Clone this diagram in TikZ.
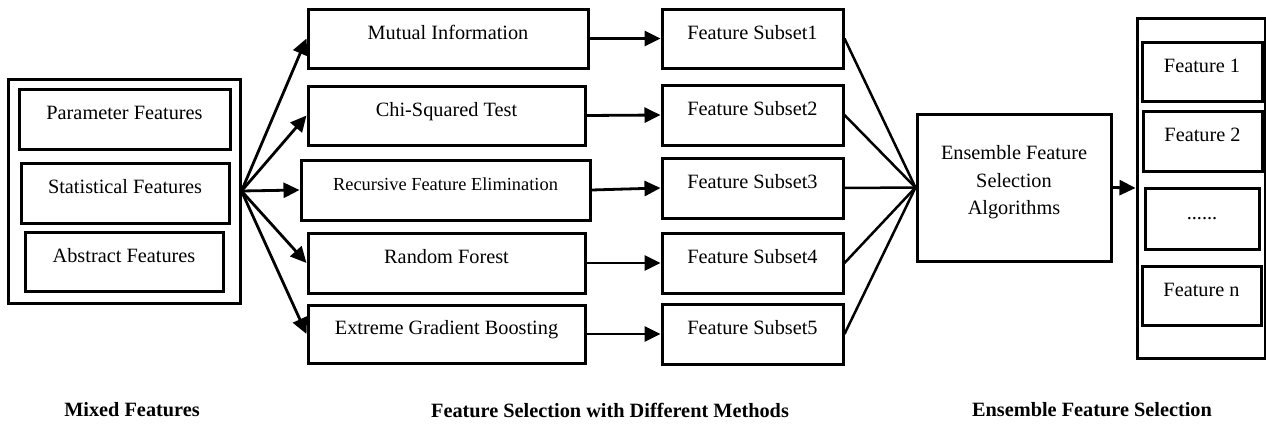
\documentclass[tikz,border=0pt]{standalone}
\usepackage{fontspec}
\setmainfont{Liberation Serif}
\usetikzlibrary{arrows.meta}

\begin{document}
\begin{tikzpicture}[x=1pt,y=-1pt,
    box/.style={draw,line width=3pt,inner sep=0pt,text height=13pt,text depth=12pt,font=\fontsize{20.3}{27.5}\selectfont},
    frame/.style={draw,line width=3pt,inner sep=0pt},
    arr/.style={line width=2.8pt,-{Triangle[length=16pt,width=15pt]}},
    lbl/.style={font=\fontsize{20.3}{24}\selectfont\bfseries}]
    \useasboundingbox (0,0) rectangle (1266,423);
    % mixed features
    \node[frame,minimum width=232pt,minimum height=224pt] (mixed) at (124,191) {};
    \node[box,minimum width=211pt,minimum height=60pt] (param) at (124.5,119)  {Parameter Features};
    \node[box,minimum width=208pt,minimum height=60pt] (stat)  at (125,193)    {Statistical Features};
    \node[box,minimum width=198pt,minimum height=59pt] (abs)   at (124,261.5)  {Abstract Features};
    % selection methods
    \node[box,minimum width=280pt,minimum height=59pt] (mi)  at (448,38.5)   {Mutual Information};
    \node[box,minimum width=277pt,minimum height=59pt] (chi) at (446.5,115.5) {Chi-Squared Test};
    \node[box,minimum width=289pt,minimum height=60pt,font=\fontsize{18.4}{22}\selectfont] (rfe) at (445.5,190) {Recursive Feature Elimination};
    \node[box,minimum width=277pt,minimum height=60pt] (rf)  at (446.5,263)   {Random Forest};
    \node[box,minimum width=277pt,minimum height=58pt] (xgb) at (446.5,334)   {Extreme Gradient Boosting};
    % subsets
    \node[box,minimum width=181pt,minimum height=59pt] (s1) at (752.5,38.5) {Feature Subset1};
    \node[box,minimum width=181pt,minimum height=60pt] (s2) at (752.5,115)  {Feature Subset2};
    \node[box,minimum width=181pt,minimum height=60pt] (s3) at (752.5,188)  {Feature Subset3};
    \node[box,minimum width=181pt,minimum height=60pt] (s4) at (752.5,263)  {Feature Subset4};
    \node[box,minimum width=181pt,minimum height=60pt] (s5) at (752.5,334)  {Feature Subset5};
    % ensemble
    \node[frame,minimum width=194pt,minimum height=147pt] (ens) at (1014,187.5) {};
    \node[align=center,inner sep=0pt,font=\fontsize{20.3}{27.5}\selectfont] (enstxt) at ([yshift=5pt]ens.center)
        {Ensemble Feature\\Selection\\Algorithms};
    % selected features
    \node[frame,minimum width=128pt,minimum height=340pt] (out) at (1201,188) {};
    \node[box,minimum width=120pt,minimum height=59pt] (f1)    at (1202,71.5)    {Feature 1};
    \node[box,minimum width=119pt,minimum height=60pt] (f2)    at (1202.5,141)   {Feature 2};
    \node[box,minimum width=114pt,minimum height=61pt] (fdots) at (1202,218.5)   {......};
    \node[box,minimum width=119pt,minimum height=59pt] (fn)    at (1201.5,295.5) {Feature n};
    % connectors
    \foreach \m in {mi,chi,rfe,rf,xgb}
        \draw[arr] (mixed.east) -- (\m.west);
    \draw[arr] (mi.east)  -- (s1.west);
    \draw[arr] (chi.east) -- (s2.west);
    \draw[arr] (rfe.east) -- (s3.west);
    \draw[arr] (rf.east)  -- (s4.west);
    \draw[arr] (xgb.east) -- (s5.west);
    \foreach \s in {s1,s2,s3,s4,s5}
        \draw[line width=2.5pt] (\s.east) -- (ens.west);
    \draw[arr] (ens.east) -- (out.west);
    % captions
    \node[lbl] (l1) at (132,410)  {Mixed Features};
    \node[lbl] (l2) at (610,410)  {Feature Selection with Different Methods};
    \node[lbl] (l3) at (1092,410) {Ensemble Feature Selection};
\end{tikzpicture}
\end{document}
